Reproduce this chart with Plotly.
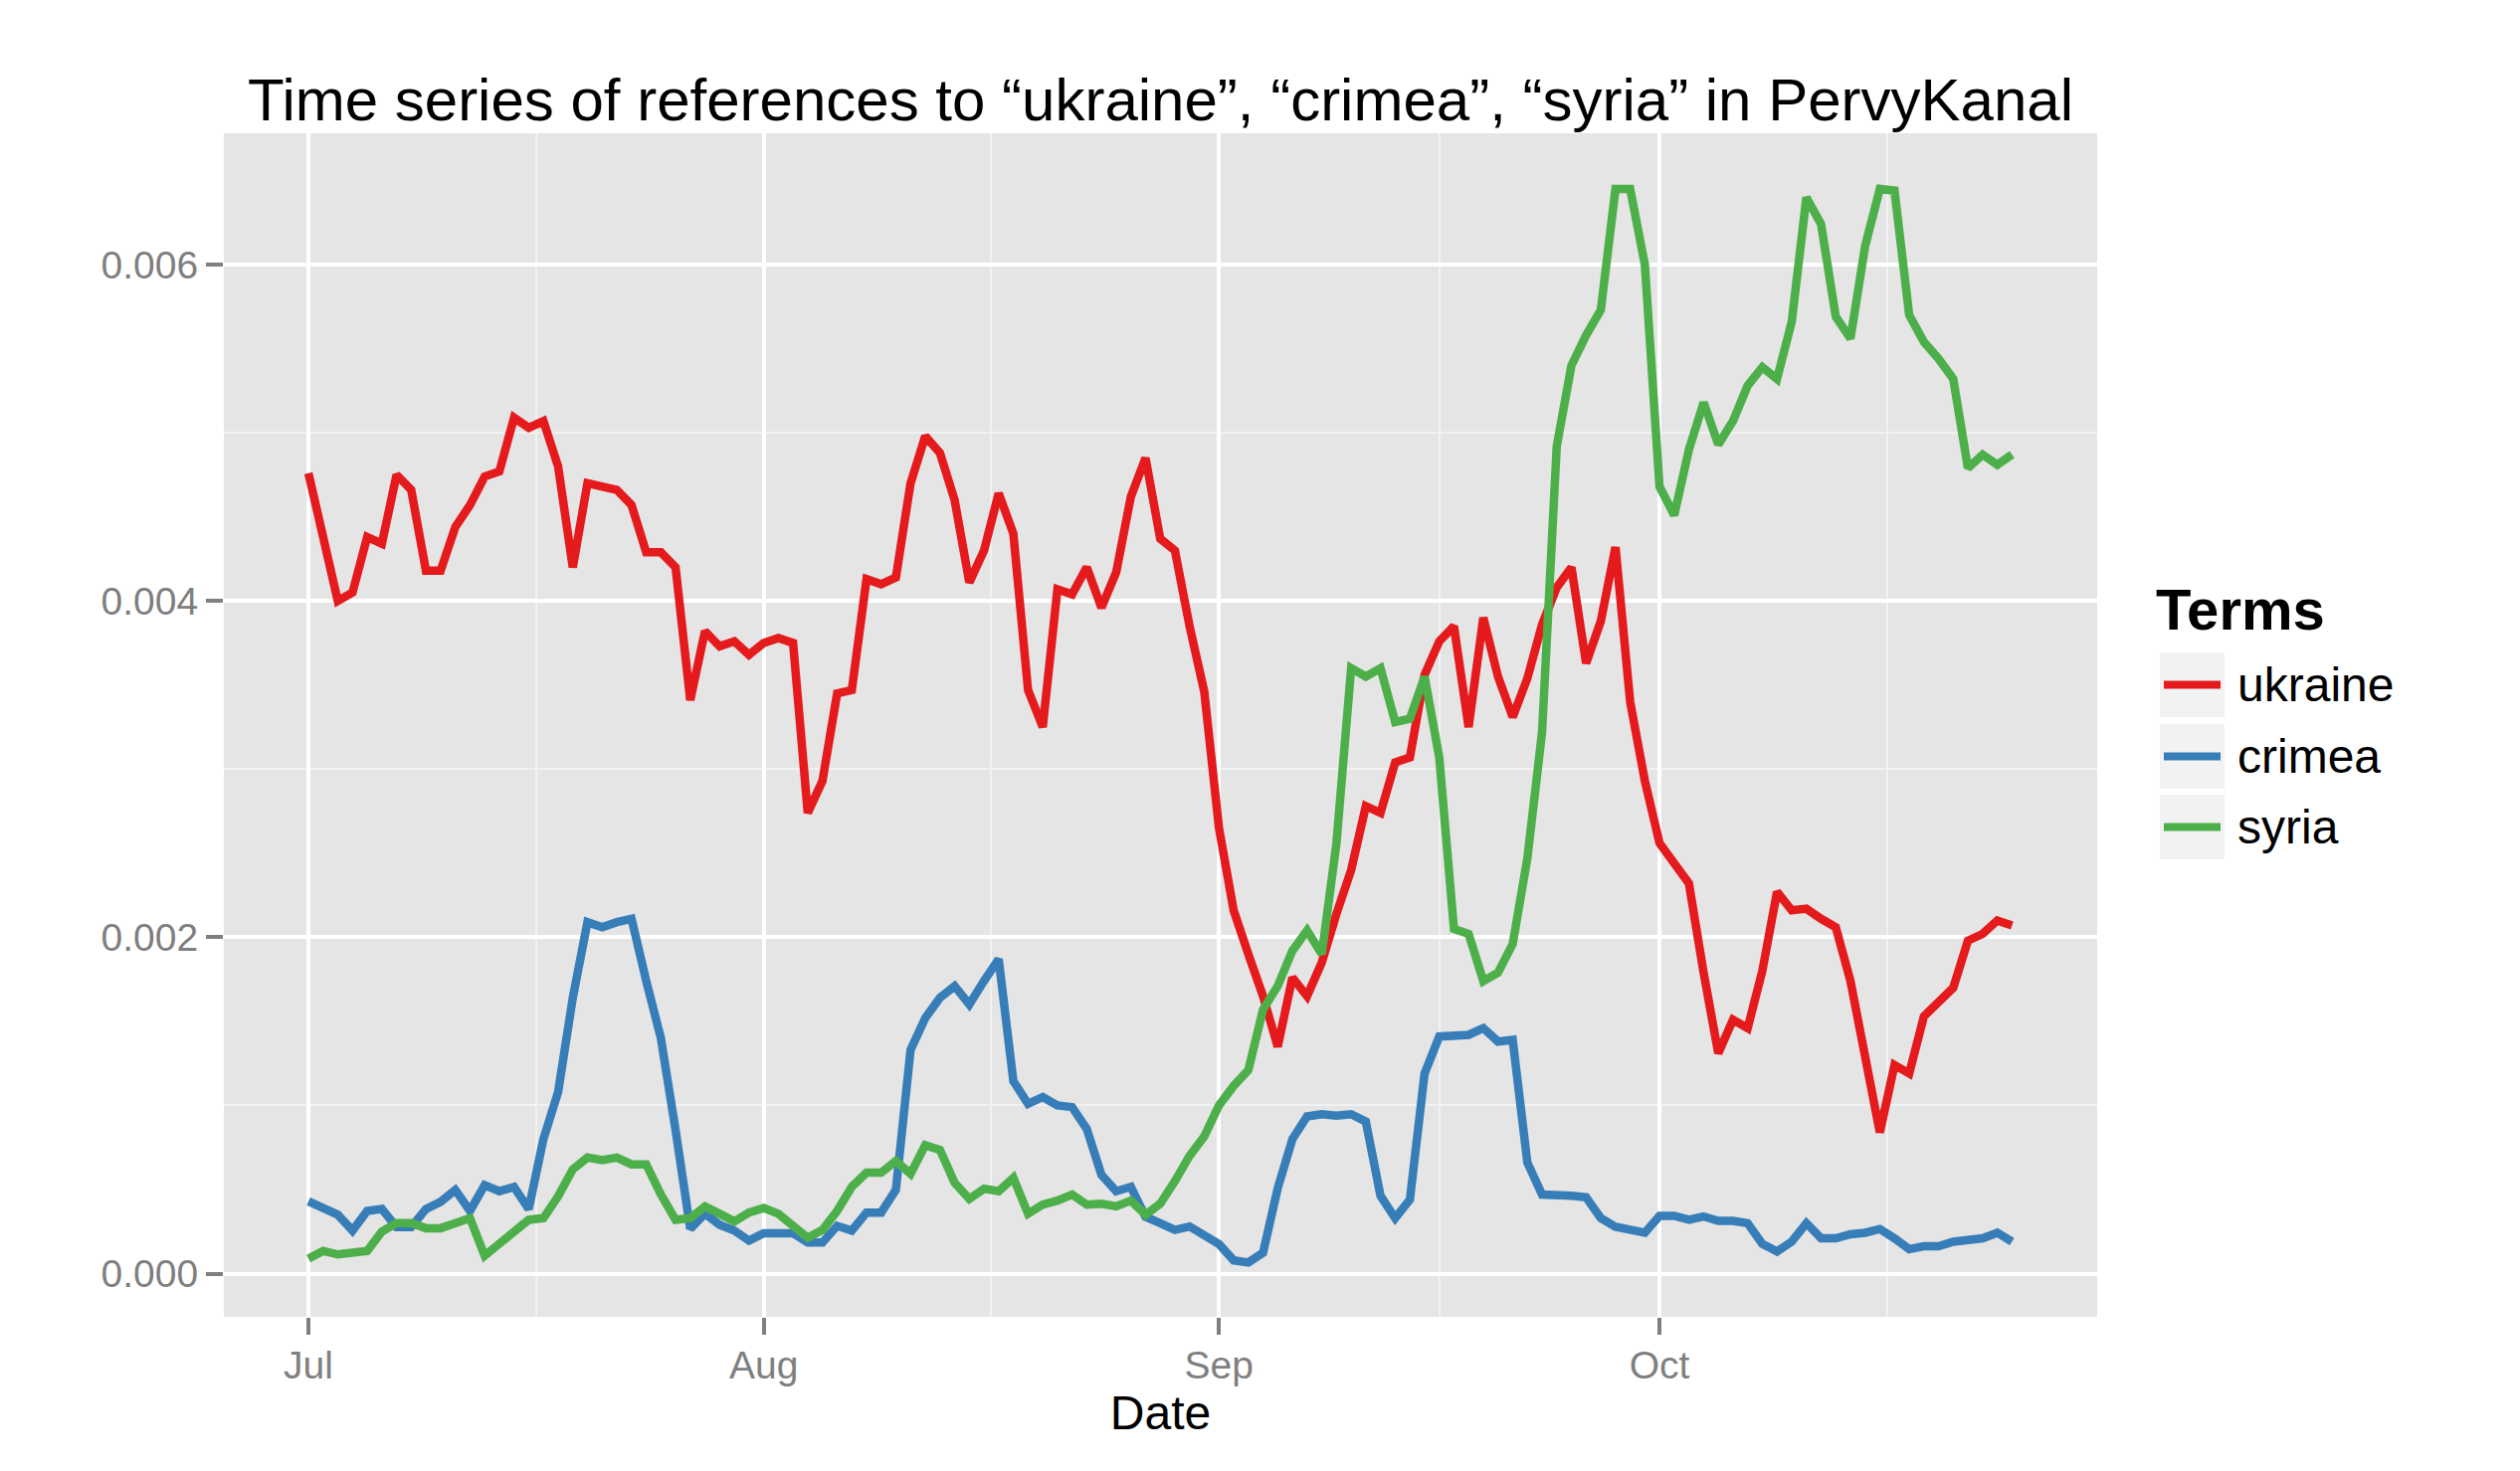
import pandas as pd
import plotly.graph_objects as go

# ---------------- data ----------------
dates = pd.date_range("2015-07-01", "2015-10-25", freq="D")
terms = ["ukraine", "crimea", "syria"]

ukraine = [0.00476, 0.00438, 0.00400, 0.00405, 0.00438, 0.00434, 0.00475, 0.00466, 0.00418, 0.00418,
           0.00444, 0.00457, 0.00474, 0.00477, 0.00509, 0.00503, 0.00507, 0.00480, 0.00420, 0.00470,
           0.00468, 0.00466, 0.00457, 0.00429, 0.00429, 0.00420, 0.00341, 0.00382, 0.00373, 0.00376,
           0.00368, 0.00375, 0.00378, 0.00375, 0.00274, 0.00293, 0.00345, 0.00347, 0.00413, 0.00410,
           0.00414, 0.00470, 0.00498, 0.00488, 0.00460, 0.00411, 0.00430, 0.00464, 0.00440, 0.00347,
           0.00325, 0.00407, 0.00404, 0.00420, 0.00396, 0.00417, 0.00462, 0.00485, 0.00437, 0.00430,
           0.00385, 0.00346, 0.00265, 0.00216, 0.00190, 0.00165, 0.00135, 0.00176, 0.00165, 0.00185,
           0.00214, 0.00240, 0.00278, 0.00274, 0.00304, 0.00307, 0.00356, 0.00376, 0.00385, 0.00325,
           0.00390, 0.00355, 0.00331, 0.00354, 0.00386, 0.00408, 0.00420, 0.00363, 0.00388, 0.00432,
           0.00340, 0.00293, 0.00256, 0.00244, 0.00232, 0.00179, 0.00131, 0.00151, 0.00146, 0.00180,
           0.00227, 0.00216, 0.00217, 0.00211, 0.00206, 0.00174, 0.00130, 0.00084, 0.00124, 0.00119,
           0.00153, 0.00162, 0.00170, 0.00198, 0.00202, 0.00210, 0.00207]

crimea = [0.00043, 0.00039, 0.00035, 0.000256, 0.000373, 0.000384, 0.000277, 0.000277, 0.000384, 0.000427,
          0.000498, 0.000373, 0.000526, 0.00049, 0.000515, 0.000384, 0.00080, 0.00108, 0.00164, 0.00209,
          0.00206, 0.00209, 0.00211, 0.00174, 0.00140, 0.000853, 0.000267, 0.000356, 0.00029, 0.000256,
          0.000196, 0.00024, 0.00024, 0.00024, 0.000185, 0.000185, 0.000284, 0.000256, 0.000363, 0.000363,
          0.000498, 0.00133, 0.00152, 0.00164, 0.00171, 0.00160, 0.00174, 0.00187, 0.001145, 0.00101,
          0.00105, 0.00100, 0.00099, 0.00086, 0.000587, 0.00049, 0.000516, 0.000338, 0.00030, 0.00026,
          0.00028, 0.000234, 0.000176, 0.000079, 0.000066, 0.000124, 0.000507, 0.00080, 0.000935, 0.000948,
          0.00094, 0.000948, 0.000904, 0.000463, 0.00033, 0.00044, 0.00119, 0.00141, 0.00141, 0.00142,
          0.00146, 0.00138, 0.00139, 0.00066, 0.00047, 0.00047, 0.000463, 0.000454, 0.00033, 0.000278,
          0.00026, 0.000243, 0.000344, 0.000344, 0.00032, 0.00034, 0.000313, 0.000313, 0.00030, 0.000176,
          0.000132, 0.00019, 0.00030, 0.00021, 0.00021, 0.000234, 0.000243, 0.000265, 0.00021, 0.000146,
          0.000163, 0.000163, 0.00019, 0.000198, 0.00021, 0.000243, 0.00019]

syria = [0.000089, 0.000135, 0.000114, 0.00013, 0.000135, 0.00025, 0.00030, 0.00030, 0.00027, 0.00027,
         0.00030, 0.00033, 0.000107, 0.00018, 0.00025, 0.00032, 0.00033, 0.00046, 0.00062, 0.00069,
         0.000675, 0.00069, 0.00065, 0.00065, 0.00047, 0.00032, 0.00033, 0.00040, 0.000356, 0.00031,
         0.000363, 0.00039, 0.000356, 0.000284, 0.000213, 0.00026, 0.000373, 0.000516, 0.00060, 0.00060,
         0.00067, 0.000594, 0.000764, 0.000736, 0.00054, 0.000444, 0.000505, 0.00049, 0.00057, 0.000356,
         0.00041, 0.000434, 0.00047, 0.00041, 0.000416, 0.00040, 0.000434, 0.00035, 0.000416, 0.00055,
         0.00070, 0.000816, 0.00100, 0.001116, 0.00121, 0.00157, 0.00171, 0.00192, 0.00204, 0.00190,
         0.00256, 0.00360, 0.00355, 0.00360, 0.00328, 0.00330, 0.00355, 0.00307, 0.00205, 0.00202,
         0.00174, 0.00179, 0.00196, 0.00247, 0.00322, 0.00492, 0.00540, 0.00558, 0.00573, 0.00645,
         0.00645, 0.00600, 0.00468, 0.00451, 0.00490, 0.00518, 0.00493, 0.00507, 0.00528, 0.00539,
         0.00532, 0.00566, 0.00640, 0.00624, 0.00569, 0.00556, 0.00611, 0.00645, 0.00644, 0.00570,
         0.00554, 0.00544, 0.00532, 0.00479, 0.00487, 0.00481, 0.00487]

series = {"ukraine": ukraine, "crimea": crimea, "syria": syria}
colors = {"ukraine": "#E41A1C", "crimea": "#377EB8", "syria": "#4DAF4A"}

x_tickvals = ["2015-07-01", "2015-08-01", "2015-09-01", "2015-10-01"]
x_ticktext = ["Jul", "Aug", "Sep", "Oct"]
x_minor = ["2015-07-16 12:00", "2015-08-16 12:00", "2015-09-16 00:00", "2015-10-16 12:00"]
y_tickvals = [0.0, 0.002, 0.004, 0.006]
y_ticktext = ["0.000", "0.002", "0.004", "0.006"]
y_minor = [0.001, 0.003, 0.005]

title = "Time series of references to \u201cukraine\u201d, \u201ccrimea\u201d, \u201csyria\u201d in PervyKanal"

# ---------------- layout geometry (pixels) ----------------
W, H = 2533, 1479
L, R, T, B = 225, 2108, 134, 1324
FONT = "Liberation Sans, Arial, Helvetica, sans-serif"
GREY = "#7F7F7F"


def px(xp):
    return (xp - L) / (R - L)


def py(yp):
    return (B - yp) / (B - T)


fig = go.Figure()
for name in terms:
    fig.add_trace(go.Scatter(
        x=dates, y=series[name], mode="lines", name=name,
        line=dict(color=colors[name], width=8.5),
        showlegend=False,
    ))

fig.update_layout(
    width=W, height=H, autosize=False,
    margin=dict(l=L, r=W - R, t=T, b=H - B, pad=0),
    paper_bgcolor="white", plot_bgcolor="#E5E5E5",
    font=dict(family=FONT, color="black"),
    title=dict(text=title, x=(px(L) + px(R)) / 2, xref="paper", xanchor="center",
               y=1 - 100 / H, yref="container", yanchor="middle",
               font=dict(size=60, color="black", family=FONT)),
    showlegend=False,
)

fig.update_xaxes(
    type="date",
    range=["2015-06-25 05:45", "2015-10-30 19:12"],
    tickmode="array", tickvals=x_tickvals, ticktext=x_ticktext,
    ticks="outside", ticklen=17, tickwidth=4, tickcolor=GREY,
    tickfont=dict(size=39, color=GREY, family=FONT),
    ticklabelstandoff=-3,
    showgrid=True, gridcolor="white", gridwidth=4,
    minor=dict(tickmode="array", tickvals=x_minor, showgrid=True,
               gridcolor="#F2F2F2", gridwidth=2, ticks=""),
    zeroline=False, showline=False,
    title=dict(text="Date", font=dict(size=48, color="black", family=FONT), standoff=6),
)

fig.update_yaxes(
    range=[-0.000257, 0.006781],
    tickmode="array", tickvals=y_tickvals, ticktext=y_ticktext,
    ticks="outside", ticklen=17, tickwidth=4, tickcolor=GREY,
    tickfont=dict(size=39, color=GREY, family=FONT),
    showgrid=True, gridcolor="white", gridwidth=4,
    minor=dict(tickmode="array", tickvals=y_minor, showgrid=True,
               gridcolor="#F2F2F2", gridwidth=2, ticks=""),
    zeroline=False, showline=False,
)

# ---------------- legend (ggplot style, drawn manually) ----------------
fig.add_annotation(text="<b>Terms</b>", x=px(2165), y=py(612), xref="paper", yref="paper",
                   xanchor="left", yanchor="middle", showarrow=False,
                   font=dict(size=58, color="black", family=FONT))
key_tops = [655, 727, 798]
key_h = 67
for name, top in zip(terms, key_tops):
    fig.add_shape(type="rect", xref="paper", yref="paper",
                  x0=px(2170), x1=px(2237), y0=py(top + key_h), y1=py(top),
                  fillcolor="#F2F2F2", line=dict(color="white", width=2), layer="below")
    cy = top + key_h / 2
    fig.add_shape(type="line", xref="paper", yref="paper",
                  x0=px(2175), x1=px(2232), y0=py(cy), y1=py(cy),
                  line=dict(color=colors[name], width=8))
    fig.add_annotation(text=name, x=px(2247), y=py(cy), xref="paper", yref="paper",
                       xanchor="left", yanchor="middle", showarrow=False,
                       font=dict(size=48, color="black", family=FONT))

fig.write_html("out.html")
